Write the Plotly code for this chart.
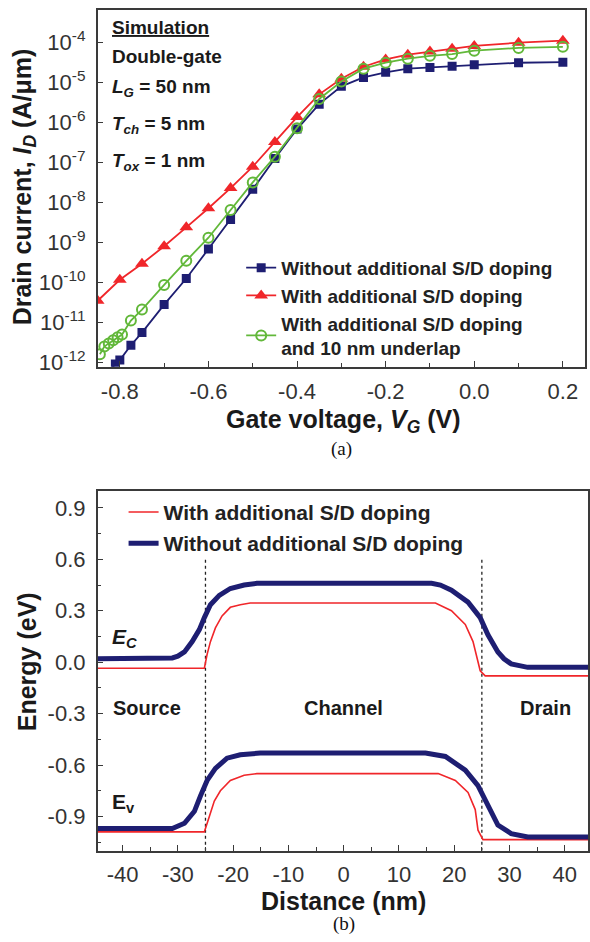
import plotly.graph_objects as go

# ---------------- Panel (a) data ----------------
vg_without = [-0.83, -0.81, -0.80, -0.775, -0.75, -0.70, -0.65, -0.60, -0.55, -0.50, -0.45, -0.40,
              -0.35, -0.30, -0.25, -0.20, -0.15, -0.10, -0.05, 0.00, 0.10, 0.20]
id_without = [5.5e-13, 9.1e-13, 1.15e-12, 2.7e-12, 5.6e-12, 2.8e-11, 1.26e-10, 6.9e-10, 3.8e-9, 2.14e-8,
              1.26e-7, 6.9e-7, 2.9e-6, 8.1e-6, 1.35e-5, 1.82e-5, 2.24e-5, 2.4e-5, 2.57e-5, 2.8e-5,
              3.15e-5, 3.25e-5]

vg_with = [-0.85, -0.80, -0.75, -0.70, -0.65, -0.60, -0.55, -0.50, -0.45, -0.40, -0.35, -0.30,
           -0.25, -0.20, -0.15, -0.10, -0.05, 0.00, 0.10, 0.20]
id_with = [3.5e-11, 1.17e-10, 2.95e-10, 8.1e-10, 2.4e-9, 7.2e-9, 2.3e-8, 7.9e-8, 3.3e-7, 1.38e-6,
           5.1e-6, 1.26e-5, 2.5e-5, 3.8e-5, 5.0e-5, 6.0e-5, 7.1e-5, 8.3e-5, 1.0e-4, 1.12e-4]

vg_underlap = [-0.845, -0.835, -0.825, -0.815, -0.805, -0.795, -0.775, -0.75, -0.70, -0.65, -0.60,
               -0.55, -0.50, -0.45, -0.40, -0.35, -0.30, -0.25, -0.20, -0.15, -0.10, -0.05, 0.00,
               0.10, 0.20]
id_underlap = [1.6e-12, 2.5e-12, 3.0e-12, 3.6e-12, 4.3e-12, 5.0e-12, 1.12e-11, 2.1e-11, 8.7e-11,
               3.5e-10, 1.32e-9, 6.5e-9, 3.2e-8, 1.41e-7, 7.2e-7, 3.9e-6, 1.07e-5, 2.24e-5,
               3.16e-5, 3.98e-5, 4.7e-5, 5.2e-5, 6.3e-5, 7.4e-5, 7.9e-5]

a_ytickvals = [1e-12, 1e-11, 1e-10, 1e-9, 1e-8, 1e-7, 1e-6, 1e-5, 1e-4]
a_yticktext = ["10<sup>-12</sup>", "10<sup>-11</sup>", "10<sup>-10</sup>", "10<sup>-9</sup>",
               "10<sup>-8</sup>", "10<sup>-7</sup>", "10<sup>-6</sup>", "10<sup>-5</sup>",
               "10<sup>-4</sup>"]
a_xtickvals = [-0.8, -0.6, -0.4, -0.2, 0.0, 0.2]
a_xticktext = ["-0.8", "-0.6", "-0.4", "-0.2", "0.0", "0.2"]

# ---------------- Panel (b) data ----------------
ec_without_x = [-45, -31, -30, -28.8, -27.4, -26.1, -25.2, -24.1, -22.5, -20.5, -18, -15.7, -10, 0,
                10, 15.9, 17.5, 19.5, 22.5, 24.7, 26.1, 27.9, 29, 30.3, 33.3, 45]
ec_without_y = [0.02, 0.025, 0.035, 0.06, 0.12, 0.19, 0.26, 0.335, 0.39, 0.43, 0.45, 0.46, 0.46, 0.46,
                0.46, 0.46, 0.45, 0.42, 0.35, 0.26, 0.16, 0.06, 0.02, -0.01, -0.03, -0.03]
ev_without_x = [-45, -31, -28.8, -27, -25.9, -24.7, -23.2, -21.1, -18.7, -15.1, 0, 14.8, 18.4, 22,
                24.3, 26.1, 27.9, 30.3, 33.3, 45]
ev_without_y = [-0.97, -0.97, -0.94, -0.87, -0.78, -0.69, -0.62, -0.56, -0.54, -0.53, -0.53, -0.53,
                -0.55, -0.63, -0.72, -0.84, -0.95, -1.0, -1.02, -1.02]

ec_with_x = [-45, -25.2, -24.7, -24.1, -23.2, -22, -20.5, -18.7, -16.9, 0, 16.6, 19.5, 22, 23.4,
             24.3, 24.7, 25.6, 45]
ec_with_y = [-0.035, -0.035, 0.046, 0.12, 0.2, 0.27, 0.32, 0.335, 0.345, 0.345, 0.345, 0.30, 0.22,
             0.12, 0.005, -0.05, -0.08, -0.08]
ev_with_x = [-45, -25.2, -24.3, -23.4, -22.3, -20.5, -18, -15.7, 0, 17.1, 20.2, 22.5, 23.8, 24.3,
             25.2, 45]
ev_with_y = [-0.99, -0.99, -0.9, -0.81, -0.75, -0.69, -0.66, -0.65, -0.65, -0.65, -0.69, -0.76,
             -0.86, -0.98, -1.035, -1.035]

junctions = [-25, 25]
junction_span = [-1.1, 0.6]
region_labels = ["Source", "Channel", "Drain"]
region_x = [-35.5, 0, 36.5]
region_y = [-0.27, -0.27, -0.27]

b_xtickvals = [-40, -30, -20, -10, 0, 10, 20, 30, 40]
b_xticktext = ["-40", "-30", "-20", "-10", "0", "10", "20", "30", "40"]
b_ytickvals = [0.9, 0.6, 0.3, 0.0, -0.3, -0.6, -0.9]
b_yticktext = ["0.9", "0.6", "0.3", "0.0", "-0.3", "-0.6", "-0.9"]

# ---------------- styles ----------------
W, H = 590, 942
NAVY = "#1e1e72"
RED = "#f0262a"
GREEN = "#62b83a"
AXC = "#3a3a3a"
FONT = "Liberation Sans, Arial, sans-serif"


def px(xp):
    return xp / W


def py(yp):
    return 1 - yp / H


fig = go.Figure()

# Panel (a)
fig.add_trace(go.Scatter(x=vg_without, y=id_without, mode="lines+markers",
                         name="Without additional S/D doping",
                         line=dict(color=NAVY, width=1.8),
                         marker=dict(symbol="square", size=9, color=NAVY),
                         xaxis="x", yaxis="y", legend="legend"))
fig.add_trace(go.Scatter(x=vg_with, y=id_with, mode="lines+markers",
                         name="With additional S/D doping",
                         line=dict(color=RED, width=1.8),
                         marker=dict(symbol="triangle-up", size=12, color=RED),
                         xaxis="x", yaxis="y", legend="legend"))
fig.add_trace(go.Scatter(x=vg_underlap, y=id_underlap, mode="lines+markers",
                         name="With additional S/D doping<br>and 10 nm underlap",
                         line=dict(color=GREEN, width=1.8),
                         marker=dict(symbol="circle-open", size=10, color=GREEN,
                                     line=dict(width=2, color=GREEN)),
                         xaxis="x", yaxis="y", legend="legend"))

# Panel (b)
for jx in junctions:
    fig.add_trace(go.Scatter(x=[jx, jx], y=junction_span, mode="lines",
                             line=dict(color="#222222", width=1.3, dash="dot"),
                             showlegend=False, xaxis="x2", yaxis="y2", hoverinfo="skip"))

fig.add_trace(go.Scatter(x=ec_with_x, y=ec_with_y, mode="lines", name="With additional S/D doping",
                         line=dict(color=RED, width=1.6), legendgroup="w",
                         xaxis="x2", yaxis="y2", legend="legend2"))
fig.add_trace(go.Scatter(x=ev_with_x, y=ev_with_y, mode="lines", name="With additional S/D doping",
                         line=dict(color=RED, width=1.6), legendgroup="w", showlegend=False,
                         xaxis="x2", yaxis="y2", legend="legend2"))
fig.add_trace(go.Scatter(x=ec_without_x, y=ec_without_y, mode="lines",
                         name="Without additional S/D doping",
                         line=dict(color=NAVY, width=5), legendgroup="wo",
                         xaxis="x2", yaxis="y2", legend="legend2"))
fig.add_trace(go.Scatter(x=ev_without_x, y=ev_without_y, mode="lines",
                         name="Without additional S/D doping",
                         line=dict(color=NAVY, width=5), legendgroup="wo", showlegend=False,
                         xaxis="x2", yaxis="y2", legend="legend2"))

axis_common = dict(showline=True, linecolor=AXC, linewidth=1.5, mirror=True, ticks="inside",
                   tickcolor=AXC, tickwidth=1.3, ticklen=6, showgrid=False, zeroline=False,
                   tickfont=dict(family=FONT, size=22, color="#333333"))

fig.update_layout(
    width=W, height=H, margin=dict(l=0, r=0, t=0, b=0),
    paper_bgcolor="white", plot_bgcolor="white",
    xaxis=dict(domain=[px(98), px(587)], range=[-0.85, 0.25], anchor="y",
               tickvals=a_xtickvals, ticktext=a_xticktext, ticklabelstandoff=4,
               minor=dict(dtick=0.1, ticks="inside", ticklen=4, tickcolor=AXC, showgrid=False),
               **axis_common),
    yaxis=dict(domain=[py(370), py(10)], type="log", range=[-12.11, -3.18], anchor="x",
               tickvals=a_ytickvals, ticktext=a_yticktext, ticklabelstandoff=6,
               **axis_common),
    xaxis2=dict(domain=[px(98), 1.0], range=[-44.5, 44.2], anchor="y2",
                tickvals=b_xtickvals, ticktext=b_xticktext, ticklabelstandoff=3,
                minor=dict(dtick=5, ticks="inside", ticklen=4, tickcolor=AXC, showgrid=False),
                **axis_common),
    yaxis2=dict(domain=[py(858), py(495)], range=[-1.1, 1.0], anchor="x2",
                tickvals=b_ytickvals, ticktext=b_yticktext, ticklabelstandoff=6,
                minor=dict(dtick=0.15, tick0=0, ticks="inside", ticklen=4, tickcolor=AXC,
                           showgrid=False),
                **axis_common),
    legend=dict(x=px(242), y=py(251), xanchor="left", yanchor="top",
                bgcolor="rgba(0,0,0,0)", borderwidth=0, tracegroupgap=0,
                font=dict(family=FONT, size=19, color="#222222", weight="bold")),
    legend2=dict(x=px(124), y=py(496), xanchor="left", yanchor="top",
                 bgcolor="rgba(0,0,0,0)", borderwidth=0, tracegroupgap=1,
                 font=dict(family=FONT, size=21, color="#222222", weight="bold")),
    showlegend=True,
)

bold = dict(family=FONT, color="#1a1a1a", weight="bold")
ann = []
# panel (a) text block
a_lines = [("<u>Simulation</u>", 28), ("Double-gate", 57), ("<i>L<sub>G</sub></i> = 50 nm", 89),
           ("<i>T<sub>ch</sub></i> = 5 nm", 126), ("<i>T<sub>ox</sub></i> = 1 nm", 163)]
for txt, yy in a_lines:
    ann.append(dict(text=txt, x=px(110), y=py(yy), xref="paper", yref="paper", xanchor="left",
                    yanchor="middle", showarrow=False, font=dict(size=19, **bold)))
ann.append(dict(text="Drain current, <i>I<sub>D</sub></i> (A/μm)", x=px(24), y=py(188),
                xref="paper", yref="paper", textangle=-90, showarrow=False,
                xanchor="center", yanchor="middle", font=dict(size=25, **bold)))
ann.append(dict(text="Gate voltage, <i>V<sub>G</sub></i> (V)", x=px(345), y=py(425),
                xref="paper", yref="paper", showarrow=False, xanchor="center",
                yanchor="middle", font=dict(size=25, **bold)))
ann.append(dict(text="(a)", x=px(343), y=py(453), xref="paper", yref="paper", showarrow=False,
                xanchor="center", yanchor="middle",
                font=dict(family="Liberation Serif, Times New Roman, serif", size=19, color="#111")))
# panel (b)
ann.append(dict(text="Energy (eV)", x=px(27), y=py(667), xref="paper", yref="paper",
                textangle=-90, showarrow=False, xanchor="center", yanchor="middle",
                font=dict(size=25, **bold)))
ann.append(dict(text="Distance (nm)", x=px(345), y=py(909), xref="paper", yref="paper",
                showarrow=False, xanchor="center", yanchor="middle", font=dict(size=25, **bold)))
ann.append(dict(text="(b)", x=px(345), y=py(932), xref="paper", yref="paper", showarrow=False,
                xanchor="center", yanchor="middle",
                font=dict(family="Liberation Serif, Times New Roman, serif", size=19, color="#111")))
ann.append(dict(text="<i>E<sub>C</sub></i>", x=px(110), y=py(643), xref="paper", yref="paper",
                showarrow=False, xanchor="left", yanchor="middle", font=dict(size=21, **bold)))
ann.append(dict(text="E<sub>v</sub>", x=px(110), y=py(810), xref="paper", yref="paper",
                showarrow=False, xanchor="left", yanchor="middle", font=dict(size=21, **bold)))
for lab, rx, ry in zip(region_labels, region_x, region_y):
    ann.append(dict(text=lab, x=rx, y=ry, xref="x2", yref="y2", showarrow=False,
                    xanchor="center", yanchor="middle", font=dict(size=20, **bold)))

fig.update_layout(annotations=ann)
fig.write_html("out.html")
